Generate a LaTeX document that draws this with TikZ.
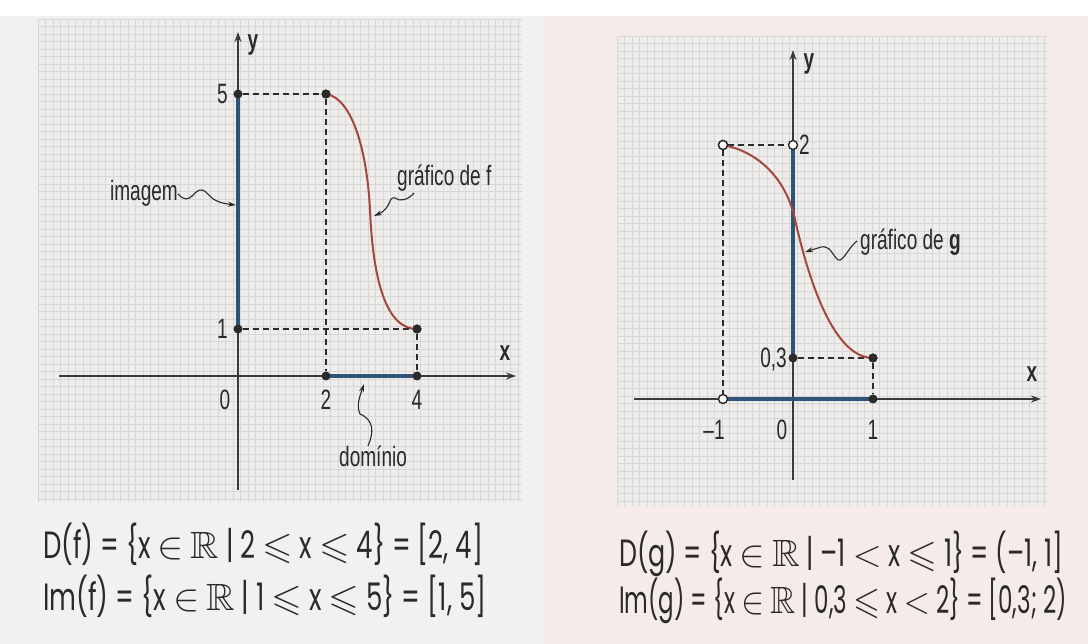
\documentclass[tikz,border=0pt]{standalone}
\usepackage{fix-cm}
\usepackage{amssymb}
\usepackage{graphicx}
\usepackage{fontspec}
\setmainfont{Liberation Sans}
\newfontfamily\labelfont[FakeStretch=0.68]{Liberation Sans}
\newfontfamily\formfont[FakeStretch=0.66]{Poppins}
\usetikzlibrary{arrows.meta, calc}
\definecolor{cpaper}{HTML}{F3F1EF}
\definecolor{cpink}{HTML}{F5ECE9}
\definecolor{cgridbg}{HTML}{EEEDEC}
\definecolor{cgridln}{HTML}{D8D7D6}
\definecolor{caxis}{HTML}{3A3A3A}
\definecolor{cblue}{HTML}{2F5477}
\definecolor{ccurve}{HTML}{A2483C}
\definecolor{cink}{HTML}{2A2A2A}
\newcommand{\lblsize}{\labelfont\fontsize{28}{30}\selectfont}
\newcommand{\formsize}{\formfont\fontsize{38}{42}\selectfont}

\begin{document}
\begin{tikzpicture}[
  x=1pt, y=-1pt,
  axisline/.style={draw=caxis, line width=1.6pt, -{Stealth[length=10pt, width=7pt]}},
  spanline/.style={draw=cblue, line width=3.6pt},
  guide/.style={draw=cink, line width=1.6pt, dash pattern=on 6pt off 4pt},
  curveline/.style={draw=ccurve, line width=2pt},
  gridline/.style={draw=cgridln, line width=0.4pt},
  dot/.style={circle, fill=cink, inner sep=0pt, minimum size=9pt},
  opendot/.style={circle, draw=cink, fill=white, line width=1.4pt, inner sep=0pt, minimum size=9pt},
  lbl/.style={text=cink, inner sep=0pt, font=\lblsize},
  form/.style={text=cink, inner sep=0pt, anchor=base west, font=\formsize},
  pointer/.style={draw=cink, line width=1.1pt, -{Stealth[length=8pt, width=5pt]}}
]
\useasboundingbox (0,0) rectangle (1088,644);

% paper
\fill[cpaper] (0,0) rectangle (1088,644);
\fill[white] (0,0) rectangle (1088,16);
\fill[cpink] (545,16) rectangle (1088,644);

% ============================================================
% LEFT panel: graph of f
% ============================================================
\fill[cgridbg] (38,19) rectangle (522,502);
\foreach \gx in {38,45.5,...,522} \draw[gridline] (\gx,19) -- (\gx,502);
\foreach \gy in {19,26.5,...,502} \draw[gridline] (38,\gy) -- (522,\gy);

\coordinate (fxs) at (59,376);
\coordinate (fxe) at (516,376);
\coordinate (fys) at (238,490);
\coordinate (fye) at (238,32);
\draw[axisline] (fxs) -- (fxe);
\draw[axisline] (fys) -- (fye);

% image and domain on the axes
\draw[spanline] (238,94) -- (238,329);
\draw[spanline] (326,376) -- (417,376);

\node[dot] (fy5) at (238,94) {};
\node[dot] (fy1) at (238,329) {};
\node[dot] (fa) at (326,94) {};
\node[dot] (fb) at (417,329) {};
\node[dot] (fx2) at (326,376) {};
\node[dot] (fx4) at (417,376) {};

\draw[guide] (fy5) -- (fa);
\draw[guide] (fa) -- (fx2);
\draw[guide] (fy1) -- (fb);
\draw[guide] (fb) -- (fx4);

% curve f
\draw[curveline] (fa.center) .. controls (352,98) and (367,150) .. (370,210)
  .. controls (373,280) and (386,329) .. (fb.center);
\node[dot] at (fa) {};
\node[dot] at (fb) {};

% axis labels
\node[lbl, anchor=east] (f5) at (228,94) {5};
\node[lbl, anchor=east] (f1) at (228,329) {1};
\node[lbl] (f0) at (225,400) {0};
\node[lbl] (f2) at (326,400) {2};
\node[lbl] (f4) at (417,400) {4};
\node[lbl, font=\lblsize\bfseries] (fx) at (505,353) {x};
\node[lbl, font=\lblsize\bfseries] (fy) at (253,45) {y};

% callouts
\node[lbl, anchor=base east] (img) at (178,201) {imagem};
\draw[pointer] (img.east) .. controls (190,208) and (194,188) .. (202,190)
  .. controls (210,192) and (208,202) .. (236,205);
\node[lbl, anchor=base west] (grf) at (397,186) {gráfico de f};
\draw[pointer] (414,193) .. controls (408,200) and (400,202) .. (395,198)
  .. controls (388,196) and (392,208) .. (374,216);
\node[lbl, anchor=base west] (dom) at (339,467) {domínio};
\draw[pointer] (368,446) .. controls (374,432) and (374,420) .. (360,414)
  .. controls (356,405) and (360,396) .. (364,384);

% sets
\node[form] (fdom) at (43,558) {\scalebox{1.035}[1]{D(f) = \{x $\in$ $\mathbb{R}$ | 2 $\leqslant$ x $\leqslant$ 4\} = [2, 4]}};
\node[form] (fim) at (43,610) {\scalebox{1.04}[1]{Im(f) = \{x $\in$ $\mathbb{R}$ | 1 $\leqslant$ x $\leqslant$ 5\} = [1, 5]}};

% ============================================================
% RIGHT panel: graph of g
% ============================================================
\fill[cgridbg] (617,36) rectangle (1047,506);
\foreach \gx in {617,624.5,...,1047} \draw[gridline] (\gx,36) -- (\gx,506);
\foreach \gy in {36,43.5,...,506} \draw[gridline] (617,\gy) -- (1047,\gy);

\coordinate (gxs) at (634,399);
\coordinate (gxe) at (1041,399);
\coordinate (gys) at (793,480);
\coordinate (gye) at (793,50);
\draw[axisline] (gxs) -- (gxe);
\draw[axisline] (gys) -- (gye);

\draw[spanline] (793,145) -- (793,358);
\draw[spanline] (723,399) -- (873,399);

\node[opendot] (ga) at (723,145) {};
\node[opendot] (gy2) at (793,145) {};
\node[opendot] (gxm) at (723,399) {};
\node[dot] (gb) at (873,358) {};
\node[dot] (gy3) at (793,358) {};
\node[dot] (gx1) at (873,399) {};

\draw[guide] (ga) -- (gy2);
\draw[guide] (ga) -- (gxm);
\draw[guide] (gy3) -- (gb);
\draw[guide] (gb) -- (gx1);

% curve g
\draw[curveline] (ga.center) .. controls (760,152) and (785,180) .. (794,215)
  .. controls (805,265) and (830,358) .. (gb.center);
\node[opendot] at (ga) {};
\node[dot] at (gb) {};

\node[lbl, anchor=west] (g2) at (799,145) {2};
\node[lbl, anchor=east] (g3) at (787,360) {0,3};
\node[lbl] (gm1) at (714,430) {–1};
\node[lbl] (g0) at (782,430) {0};
\node[lbl] (g1) at (873,430) {1};
\node[lbl, font=\lblsize\bfseries] (gx) at (1032,374) {x};
\node[lbl, font=\lblsize\bfseries] (gy) at (809,64) {y};

\node[lbl, anchor=base west] (grg) at (860,250) {gráfico de \textbf{g}};
\draw[pointer] (857,241) .. controls (846,250) and (842,266) .. (836,258)
  .. controls (830,250) and (828,244) .. (818,248) -- (805,252);

\node[form] (gdom) at (619,566) {\scalebox{1.01}[1]{D(g) = \{x $\in$ $\mathbb{R}$ | –1 $<$ x $\leqslant$ 1\} = (–1, 1]}};
\node[form] (gim) at (619,613) {\scalebox{0.915}[1]{Im(g) = \{x $\in$ $\mathbb{R}$ | 0,3 $\leqslant$ x $<$ 2\} = [0,3; 2)}};

\end{tikzpicture}
\end{document}
